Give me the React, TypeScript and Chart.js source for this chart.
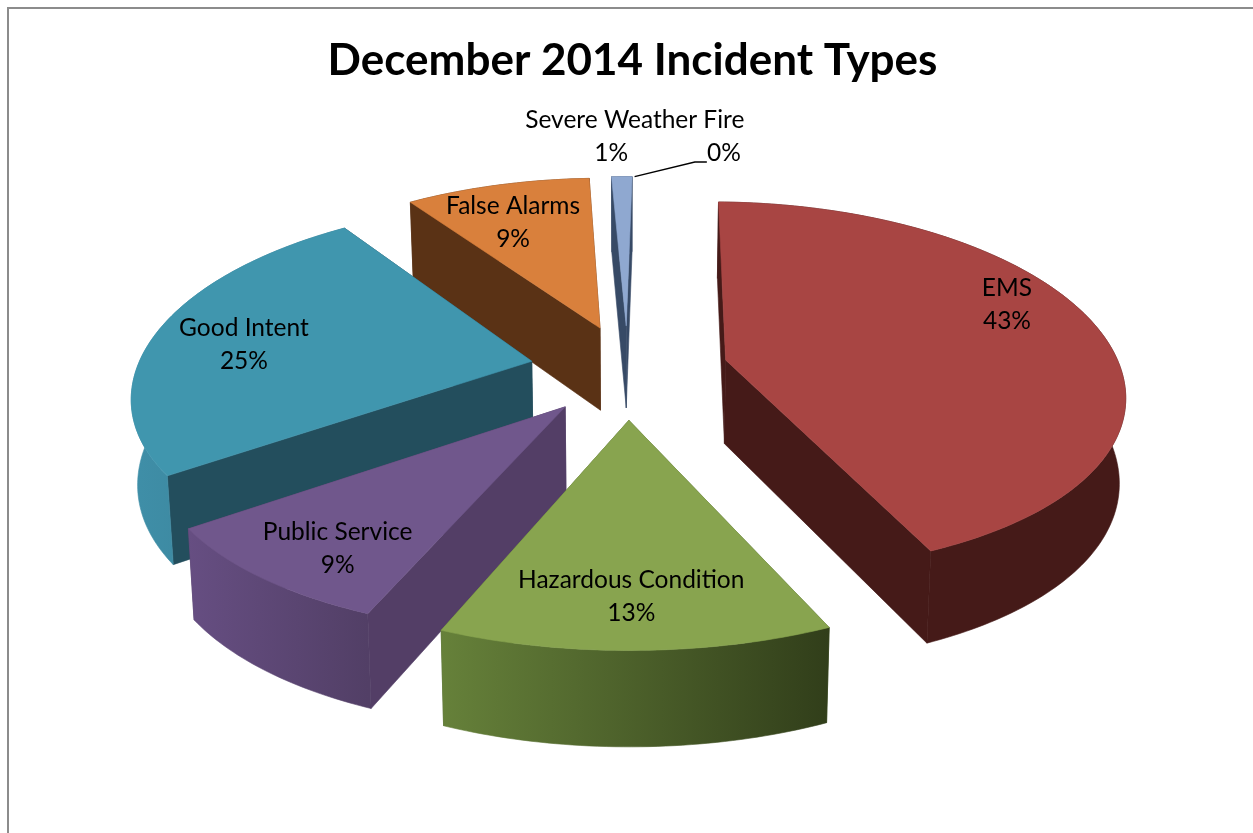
import React, { useEffect, useRef } from "react";
import { Chart, registerables } from "chart.js";

Chart.register(...registerables);

// Incident shares, clockwise from twelve o'clock.
const categories = ["EMS", "Hazardous Condition", "Public Service", "Good Intent", "False Alarms", "Severe Weather", "Fire"];
const percentages = [43, 13, 9, 25, 9, 1, 0];

const topColors = ["#a84543", "#88a44f", "#70578c", "#4096ae", "#d9803c", "#8fa8d0", "#8fa8d0"];
const cutWallColors = ["#451a18", "#4d6230", "#533e66", "#234e5d", "#5a3215", "#374a66", "#374a66"];
const rimGradients = [
  ["#451a18", "#451a18"],
  ["#66813a", "#313e1a"],
  ["#664e82", "#523f66"],
  ["#3f8fa8", "#387a90"],
  ["#5a3215", "#5a3215"],
  ["#374a66", "#374a66"],
  ["#374a66", "#374a66"],
];
// Label placement relative to each slice's mid-radius point.
const labelNudges = [[40, -32], [-7, 39], [-46, 37], [-51, 4], [-20, -8], [-17, -87], [86, -87]];
// Extra on-screen displacement of each exploded slice.
const sliceDrift = [[1, 0], [-5, 5], [-6, 2], [-8, 0], [-3, 0], [-5, 0], [-5, 0]];

const RADIUS = 200;
const EXPLODE = 192;
const FIRST_SLICE_ANGLE = 1;

// Viewing setup for the tilted pie: foreshortening, depth and perspective.
const VIEW = {
  centerY: 369,
  scaleX: 395,
  scaleY: 187,
  depth: 84,
  perspective: 0.1655,
  nearPerspective: 0.13,
  taper: 0.013,
};

type Pt = { x: number; y: number };

const project = (cx: number, u: number, v: number, z: number): Pt => {
  const w = 1 - VIEW.perspective * v;
  const wy = 1 - (v > 0 ? VIEW.nearPerspective : VIEW.perspective) * v;
  return {
    x: cx + (VIEW.scaleX * u * (1 - VIEW.taper * z)) / w,
    y: VIEW.centerY + (VIEW.scaleY * v) / wy + (VIEW.depth * z) / Math.pow(w, 0.6),
  };
};

const fillPolygon = (ctx: CanvasRenderingContext2D, pts: Pt[], fill: string | CanvasGradient) => {
  ctx.beginPath();
  pts.forEach((p, i) => (i ? ctx.lineTo(p.x, p.y) : ctx.moveTo(p.x, p.y)));
  ctx.closePath();
  ctx.fillStyle = fill;
  ctx.fill();
  ctx.strokeStyle = fill;
  ctx.lineWidth = 0.6;
  ctx.stroke();
};

// Unit-radius geometry of one pie element, taken from the element itself.
const sliceGeometry = (arc: any) => {
  const { x, startAngle, endAngle, outerRadius } = arc.getProps(["x", "startAngle", "endAngle", "outerRadius"], true);
  const mid = (startAngle + endAngle) / 2;
  const shift = (arc.options.offset || 0) / 4 / outerRadius;
  return { cx: x, startAngle, endAngle, mid, ox: Math.cos(mid) * shift, oy: Math.sin(mid) * shift };
};

const drawSlice = (ctx: CanvasRenderingContext2D, arc: any, index: number) => {
  const g = sliceGeometry(arc);
  if (g.endAngle - g.startAngle <= 0) return;
  const steps = Math.max(2, Math.ceil(((g.endAngle - g.startAngle) * 180) / Math.PI));
  const rim: { u: number; v: number }[] = [];
  for (let i = 0; i <= steps; i++) {
    const a = g.startAngle + ((g.endAngle - g.startAngle) * i) / steps;
    rim.push({ u: g.ox + Math.cos(a), v: g.oy + Math.sin(a) });
  }
  const [dx, dy] = sliceDrift[index];
  const at = (p: { u: number; v: number }, z: number) => {
    const q = project(g.cx, p.u, p.v, z);
    return { x: q.x + dx, y: q.y + dy };
  };
  const apex = { u: g.ox, v: g.oy };
  const first = rim[0];
  const last = rim[rim.length - 1];

  // Faces run back to front so that nearer ones cover farther ones.
  const rimTop = rim.map((p) => at(p, 0));
  const rimBottom = rim.map((p) => at(p, 1));
  const xs = rimTop.map((p) => p.x);
  const grad = ctx.createLinearGradient(Math.min(...xs), 0, Math.max(...xs), 0);
  grad.addColorStop(0, rimGradients[index][0]);
  grad.addColorStop(1, rimGradients[index][1]);

  const faces: { depth: number; pts: Pt[]; fill: string | CanvasGradient }[] = [
    { depth: (apex.v + first.v) / 2, pts: [at(apex, 0), at(first, 0), at(first, 1), at(apex, 1)], fill: cutWallColors[index] },
    { depth: (apex.v + last.v) / 2, pts: [at(apex, 0), at(last, 0), at(last, 1), at(apex, 1)], fill: cutWallColors[index] },
    { depth: Math.max(first.v, last.v, ...rim.map((p) => p.v)), pts: [...rimTop, ...rimBottom.reverse()], fill: grad },
  ];
  faces.sort((a, b) => a.depth - b.depth).forEach((f) => fillPolygon(ctx, f.pts, f.fill));
  fillPolygon(ctx, [at(apex, 0), ...rimTop], topColors[index]);
};

const tiltedPie = {
  id: "tiltedPie",
  beforeDatasetsDraw(chart: any) {
    const { ctx } = chart;
    const arcs = chart.getDatasetMeta(0).data;
    const order = arcs
      .map((arc: any, i: number) => ({ i, arc, key: Math.sin(sliceGeometry(arc).mid) }))
      .sort((a: any, b: any) => a.key - b.key);
    ctx.save();
    order.forEach((o: any) => drawSlice(ctx, o.arc, o.i));
    ctx.restore();
    return false;
  },
  afterDraw(chart: any) {
    const { ctx } = chart;
    const arcs = chart.getDatasetMeta(0).data;
    const values = chart.data.datasets[0].data;
    ctx.save();
    ctx.fillStyle = "#000";
    ctx.font = "24.5px Lato";
    ctx.textAlign = "center";
    ctx.textBaseline = "middle";
    arcs.forEach((arc: any, i: number) => {
      const g = sliceGeometry(arc);
      const c = project(g.cx, g.ox + Math.cos(g.mid) * 0.65, g.oy + Math.sin(g.mid) * 0.65, 0);
      const x = c.x + labelNudges[i][0];
      const y = c.y + labelNudges[i][1];
      ctx.fillText(chart.data.labels[i], x, y - 16.5);
      ctx.fillText(`${values[i]}%`, x, y + 16.5);
      if (values[i] === 0) {
        // Leader from the empty slice's rim to its percentage label.
        const rim = project(g.cx, g.ox + Math.cos(g.mid), g.oy + Math.sin(g.mid), 0);
        ctx.beginPath();
        ctx.moveTo(rim.x + sliceDrift[i][0], rim.y + sliceDrift[i][1]);
        ctx.lineTo(x - 29, y + 25);
        ctx.lineTo(x - 17, y + 25);
        ctx.strokeStyle = "#000";
        ctx.lineWidth = 1.5;
        ctx.stroke();
      }
    });
    ctx.restore();
  },
};

export default function App() {
  const ref = useRef<HTMLCanvasElement>(null);
  useEffect(() => {
    const chart = new Chart(ref.current!, {
      type: "pie",
      data: {
        labels: categories,
        datasets: [{ data: percentages, backgroundColor: topColors, borderWidth: 0, offset: EXPLODE }],
      },
      options: {
        responsive: false,
        animation: false,
        radius: RADIUS,
        rotation: FIRST_SLICE_ANGLE,
        layout: { padding: { left: 12 } },
        plugins: {
          legend: { display: false },
          tooltip: { enabled: false },
          title: {
            display: true,
            text: "December 2014 Incident Types",
            color: "#000",
            font: { family: "Lato", size: 44, weight: "bold" },
            padding: { top: 34, bottom: 10 },
          },
        },
      },
      plugins: [tiltedPie],
    } as any);
    return () => chart.destroy();
  }, []);
  return (
    <div style={{ position: "fixed", inset: 0, overflow: "hidden", background: "#fff" }}>
      <canvas ref={ref} width={1253} height={833} style={{ display: "block" }} />
      <div
        style={{
          position: "absolute",
          left: 7,
          top: 7,
          right: 0,
          bottom: 0,
          borderTop: "2px solid #8c8c8c",
          borderLeft: "2px solid #8c8c8c",
        }}
      />
    </div>
  );
}
